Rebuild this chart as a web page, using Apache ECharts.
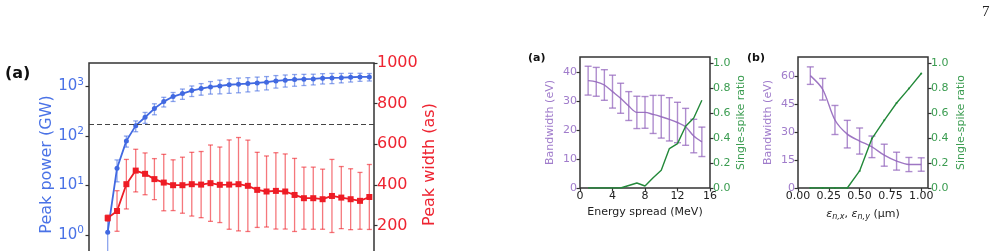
<!DOCTYPE html>
<html>
<head>
<meta charset="utf-8">
<script src="https://cdn.jsdelivr.net/npm/echarts@6/dist/echarts.min.js"></script>
<style>
html, body { margin: 0; padding: 0; background: #fff; }
#fig { width: 998px; height: 251px; }
</style>
</head>
<body>
<div id="fig"></div>
<script>
// left panel: peak power (log, GW) and peak width (as) along the scan
var scanX = [2, 3, 4, 5, 6, 7, 8, 9, 10, 11, 12, 13, 14, 15, 16, 17, 18, 19, 20, 21, 22, 23, 24, 25, 26, 27, 28, 29, 30];
var powerGW = [1.13, 22.3, 79.6, 162, 240, 359, 497, 630, 722, 830, 911, 986, 1033, 1090, 1119, 1150, 1188, 1227, 1303, 1348, 1387, 1412, 1432, 1479, 1500, 1520, 1548, 1570, 1570];
var powerErr = [1.1, 10.5, 20, 40, 60, 90, 110, 130, 170, 200, 240, 280, 320, 360, 370, 370, 370, 370, 370, 370, 370, 360, 350, 350, 350, 330, 310, 290, 270];
var widthAs = [236, 271, 403, 470, 454, 428, 411, 398, 398, 403, 401, 408, 400, 401, 403, 395, 375, 367, 370, 367, 350, 334, 334, 329, 345, 337, 329, 321, 340];
var widthErr = [15, 100, 122, 105, 103, 101, 139, 125, 138, 157, 163, 188, 186, 220, 230, 225, 185, 175, 188, 185, 180, 153, 153, 148, 180, 153, 150, 140, 160];
var powerTicks = [1, 10, 100, 1000];
var widthTicks = [200, 400, 600, 800, 1000];
var thresholdAs = 700;

// small panel (a): bandwidth and single-spike ratio vs energy spread
var spreadMeV = [1, 2, 3, 4, 5, 6, 7, 8, 9, 10, 11, 12, 13, 14, 15];
var bwA = [37.2, 36.8, 35.7, 33.4, 31.1, 28.4, 26.2, 26.2, 25.5, 24.7, 23.8, 22.7, 21.2, 18.0, 16.0];
var bwErrA = [5.0, 5.0, 5.3, 5.7, 5.2, 5.0, 5.6, 5.5, 6.6, 7.4, 7.5, 7.0, 6.4, 5.8, 5.1];
var ratioA = [0, 0, 0, 0, 0, 0.02, 0.04, 0.016, 0.083, 0.142, 0.317, 0.357, 0.496, 0.563, 0.705];
var spreadTicks = [0, 4, 8, 12, 16];
var bwTicksA = [0, 10, 20, 30, 40];

// small panel (b): bandwidth and single-spike ratio vs emittance
var emitUm = [0.1, 0.2, 0.3, 0.4, 0.5, 0.6, 0.7, 0.8, 0.9, 1.0];
var bwB = [60.3, 53.0, 36.5, 28.9, 25.2, 22.1, 17.6, 14.4, 12.6, 12.6];
var bwErrB = [4.7, 5.8, 7.8, 7.4, 7.0, 5.8, 5.9, 4.8, 3.8, 3.6];
var ratioB = [0, 0, 0, 0, 0.137, 0.397, 0.544, 0.683, 0.799, 0.92];
var emitTicks = [0, 0.25, 0.5, 0.75, 1.0];
var bwTicksB = [0, 15, 30, 45, 60];
var ratioTicks = [0, 0.2, 0.4, 0.6, 0.8, 1.0];

var FONT = 'DejaVu Sans';
var BLUE = '#4169e1', RED = '#ee1c25', PURPLE = '#9467bd', GREEN = '#23893a';
var BLUE_TXT = '#4a72e6', RED_TXT = '#ee2431', PURPLE_TXT = '#a07ccb', GREEN_TXT = '#3a9c50';

function pairs(xs, ys) {
    return xs.map(function (x, i) { return [x, ys[i]]; });
}
function triples(xs, ys, es) {
    return xs.map(function (x, i) { return [x, ys[i], es[i]]; });
}

function errorBars(color, cap, width) {
    return function (params, api) {
        var x = api.value(0), y = api.value(1), e = api.value(2);
        var lo = api.coord([x, y - e]);
        var hi = api.coord([x, y + e]);
        var st = { stroke: color, lineWidth: width };
        return {
            type: 'group',
            children: [
                { type: 'line', shape: { x1: lo[0], y1: lo[1], x2: hi[0], y2: hi[1] }, style: st },
                { type: 'line', shape: { x1: hi[0] - cap, y1: hi[1], x2: hi[0] + cap, y2: hi[1] }, style: st },
                { type: 'line', shape: { x1: lo[0] - cap, y1: lo[1], x2: lo[0] + cap, y2: lo[1] }, style: st }
            ]
        };
    };
}

function tick(values) {
    return { show: true, inside: false, length: 3.5, customValues: values, lineStyle: { color: '#333', width: 1.2 } };
}

var chart = echarts.init(document.getElementById('fig'));

chart.setOption({
    animation: false,
    grid: [
        { left: 89, top: 63, width: 285, height: 203, outerBoundsMode: 'none', containLabel: false, show: true, borderColor: '#333', borderWidth: 1.5, backgroundColor: 'transparent' },
        { left: 580, top: 57, width: 130, height: 131, outerBoundsMode: 'none', containLabel: false, show: true, borderColor: '#333', borderWidth: 1.5, backgroundColor: 'transparent' },
        { left: 798, top: 57, width: 130, height: 131, outerBoundsMode: 'none', containLabel: false, show: true, borderColor: '#333', borderWidth: 1.5, backgroundColor: 'transparent' }
    ],
    xAxis: [
        { gridIndex: 0, type: 'value', min: 0, max: 30.5, show: false },
        {
            gridIndex: 1, type: 'value', min: 0, max: 16,
            name: 'Energy spread (MeV)', nameLocation: 'middle', nameGap: 19, nameMoveOverlap: false,
            nameTextStyle: { fontFamily: FONT, fontSize: 11, color: '#222', verticalAlign: 'top' },
            axisLine: { show: false }, splitLine: { show: false },
            axisTick: tick(spreadTicks),
            axisLabel: { customValues: spreadTicks, margin: 3, fontFamily: FONT, fontSize: 11, color: '#222' }
        },
        {
            gridIndex: 2, type: 'value', min: 0, max: 1.055,
            name: '{i|ε}{sub|n,x}{t|, }{i|ε}{sub|n,y}{t| (μm)}', nameLocation: 'middle', nameGap: 19, nameMoveOverlap: false,
            nameTextStyle: {
                fontFamily: FONT, fontSize: 11, color: '#222', verticalAlign: 'top',
                rich: {
                    i: { fontFamily: FONT, fontSize: 11, fontStyle: 'italic', color: '#222', lineHeight: 14 },
                    sub: { fontFamily: FONT, fontSize: 8, fontStyle: 'italic', color: '#222', verticalAlign: 'bottom', lineHeight: 14 },
                    t: { fontFamily: FONT, fontSize: 11, color: '#222', lineHeight: 14 }
                }
            },
            axisLine: { show: false }, splitLine: { show: false },
            axisTick: tick(emitTicks),
            axisLabel: {
                customValues: emitTicks, margin: 3, fontFamily: FONT, fontSize: 11, color: '#222',
                formatter: function (v) { return v.toFixed(2); }
            }
        }
    ],
    yAxis: [
        {
            gridIndex: 0, type: 'log', logBase: 10, min: 0.2333, max: 3006, position: 'left',
            name: 'Peak power (GW)', nameLocation: 'middle', nameRotate: 90, nameGap: 34, nameMoveOverlap: false,
            nameTextStyle: { fontFamily: FONT, fontSize: 16, color: BLUE_TXT },
            axisLine: { show: false }, splitLine: { show: false }, minorTick: { show: false },
            axisTick: tick(powerTicks),
            axisLabel: {
                customValues: powerTicks, margin: 5,
                formatter: function (v) { return '{b|10}{s|' + Math.round(Math.log10(v)) + '}'; },
                rich: {
                    b: { fontFamily: FONT, fontSize: 15, color: BLUE_TXT, lineHeight: 20 },
                    s: { fontFamily: FONT, fontSize: 10.5, color: BLUE_TXT, verticalAlign: 'top', lineHeight: 20 }
                }
            }
        },
        {
            gridIndex: 0, type: 'value', min: 0, max: 1000, interval: 200, position: 'right',
            name: 'Peak width (as)', nameLocation: 'middle', nameRotate: 90, nameGap: 46,
            nameTextStyle: { fontFamily: FONT, fontSize: 16, color: RED_TXT },
            axisLine: { show: false }, splitLine: { show: false },
            axisTick: tick(widthTicks),
            axisLabel: {
                customValues: widthTicks, margin: 3, fontFamily: FONT, fontSize: 16, color: RED_TXT,
                formatter: function (v) { return String(v); }
            }
        },
        {
            gridIndex: 1, type: 'value', min: 0, max: 45.4, position: 'left',
            name: 'Bandwidth (eV)', nameLocation: 'middle', nameRotate: 90, nameGap: 24,
            nameTextStyle: { fontFamily: FONT, fontSize: 11, color: PURPLE_TXT },
            axisLine: { show: false }, splitLine: { show: false },
            axisTick: tick(bwTicksA),
            axisLabel: { customValues: bwTicksA, margin: 3, fontFamily: FONT, fontSize: 11, color: PURPLE_TXT }
        },
        {
            gridIndex: 1, type: 'value', min: 0, max: 1.053, position: 'right',
            name: 'Single-spike ratio', nameLocation: 'middle', nameRotate: 90, nameGap: 26,
            nameTextStyle: { fontFamily: FONT, fontSize: 11, color: GREEN_TXT },
            axisLine: { show: false }, splitLine: { show: false },
            axisTick: tick(ratioTicks),
            axisLabel: {
                customValues: ratioTicks, margin: 3, fontFamily: FONT, fontSize: 11, color: GREEN_TXT,
                formatter: function (v) { return v.toFixed(1); }
            }
        },
        {
            gridIndex: 2, type: 'value', min: 0, max: 70.3, position: 'left',
            name: 'Bandwidth (eV)', nameLocation: 'middle', nameRotate: 90, nameGap: 24,
            nameTextStyle: { fontFamily: FONT, fontSize: 11, color: PURPLE_TXT },
            axisLine: { show: false }, splitLine: { show: false },
            axisTick: tick(bwTicksB),
            axisLabel: { customValues: bwTicksB, margin: 3, fontFamily: FONT, fontSize: 11, color: PURPLE_TXT }
        },
        {
            gridIndex: 2, type: 'value', min: 0, max: 1.053, position: 'right',
            name: 'Single-spike ratio', nameLocation: 'middle', nameRotate: 90, nameGap: 28,
            nameTextStyle: { fontFamily: FONT, fontSize: 11, color: GREEN_TXT },
            axisLine: { show: false }, splitLine: { show: false },
            axisTick: tick(ratioTicks),
            axisLabel: {
                customValues: ratioTicks, margin: 3, fontFamily: FONT, fontSize: 11, color: GREEN_TXT,
                formatter: function (v) { return v.toFixed(1); }
            }
        }
    ],
    series: [
        {
            type: 'custom', xAxisIndex: 0, yAxisIndex: 0, z: 2,
            renderItem: errorBars('rgba(65,105,225,0.6)', 2.5, 1.3),
            data: triples(scanX, powerGW, powerErr)
        },
        {
            type: 'line', xAxisIndex: 0, yAxisIndex: 0, z: 3,
            symbol: 'circle', symbolSize: 5,
            lineStyle: { color: BLUE, width: 1.8 }, itemStyle: { color: BLUE },
            data: pairs(scanX, powerGW)
        },
        {
            type: 'custom', xAxisIndex: 0, yAxisIndex: 1, z: 4,
            renderItem: errorBars('rgba(238,28,37,0.6)', 2.5, 1.3),
            data: triples(scanX, widthAs, widthErr)
        },
        {
            type: 'line', xAxisIndex: 0, yAxisIndex: 1, z: 5,
            symbol: 'rect', symbolSize: 6,
            lineStyle: { color: RED, width: 1.8 }, itemStyle: { color: RED },
            data: pairs(scanX, widthAs),
            markLine: {
                silent: true, symbol: 'none', label: { show: false },
                lineStyle: { color: '#444', width: 1.2, type: [5, 3] },
                data: [{ yAxis: thresholdAs }]
            }
        },
        {
            type: 'custom', xAxisIndex: 1, yAxisIndex: 2, z: 2,
            renderItem: errorBars('rgba(148,103,189,0.75)', 3.5, 1.4),
            data: triples(spreadMeV, bwA, bwErrA)
        },
        {
            type: 'line', xAxisIndex: 1, yAxisIndex: 2, z: 3, smooth: 0.3,
            symbol: 'none', lineStyle: { color: PURPLE, width: 1.4, opacity: 0.9 },
            data: pairs(spreadMeV, bwA)
        },
        {
            type: 'line', xAxisIndex: 1, yAxisIndex: 3, z: 3,
            symbol: 'none', lineStyle: { color: GREEN, width: 1.4 },
            data: pairs(spreadMeV, ratioA)
        },
        {
            type: 'custom', xAxisIndex: 2, yAxisIndex: 4, z: 2,
            renderItem: errorBars('rgba(148,103,189,0.75)', 3.5, 1.4),
            data: triples(emitUm, bwB, bwErrB)
        },
        {
            type: 'line', xAxisIndex: 2, yAxisIndex: 4, z: 3, smooth: 0.3,
            symbol: 'none', lineStyle: { color: PURPLE, width: 1.4, opacity: 0.9 },
            data: pairs(emitUm, bwB)
        },
        {
            type: 'line', xAxisIndex: 2, yAxisIndex: 5, z: 3,
            symbol: 'circle', symbolSize: 2, itemStyle: { color: GREEN },
            lineStyle: { color: GREEN, width: 1.4 },
            data: pairs(emitUm, ratioB)
        }
    ],
    graphic: [
        { type: 'text', left: 5, top: 66, style: { text: '(a)', font: 'bold 16px "DejaVu Sans"', fill: '#111' } },
        { type: 'text', left: 528, top: 53, style: { text: '(a)', font: 'bold 11px "DejaVu Sans"', fill: '#111' } },
        { type: 'text', left: 747, top: 53, style: { text: '(b)', font: 'bold 11px "DejaVu Sans"', fill: '#111' } },
        { type: 'text', left: 982, top: 5, style: { text: '7', font: '15px "Liberation Serif"', fill: '#222' } }
    ]
});
</script>
</body>
</html>
